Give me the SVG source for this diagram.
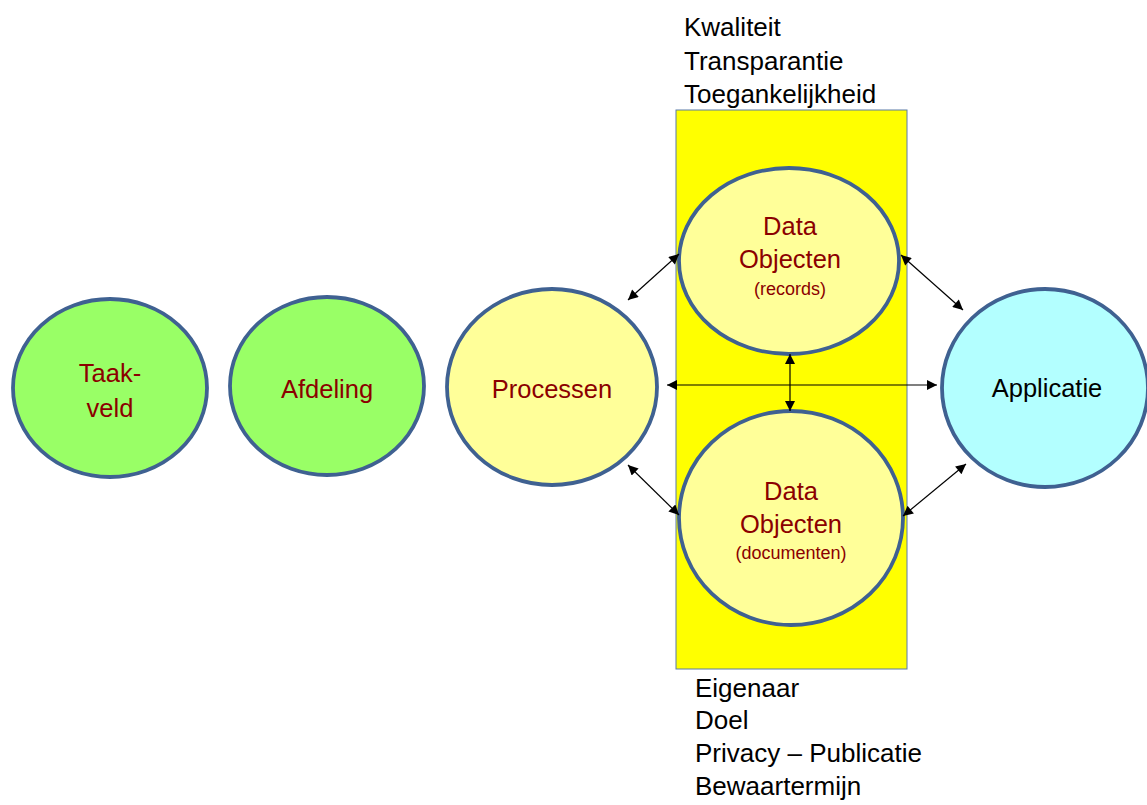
<svg xmlns="http://www.w3.org/2000/svg" width="1147" height="805" viewBox="0 0 1147 805">
<defs>
<marker id="ah" viewBox="0 0 10 10" refX="10" refY="5" markerWidth="11" markerHeight="10" markerUnits="userSpaceOnUse" orient="auto-start-reverse">
<path d="M0,0 L10,5 L0,10 z" fill="#000"/>
</marker>
<style>
.node{stroke:#3F6191;stroke-width:3.8}
.green{fill:#99FF66}
.yel{fill:#FFFF99}
.cyan{fill:#B3FFFF}
.lbl{font-family:"Liberation Sans",Arial,sans-serif;font-size:25.5px;fill:#8B0000;text-anchor:middle}
.sm{font-size:18px}
.side{font-family:"Liberation Sans",Arial,sans-serif;font-size:26px;fill:#000}
.conn{stroke:#000;stroke-width:1.2;fill:none;marker-start:url(#ah);marker-end:url(#ah)}
</style>
</defs>
<rect width="1147" height="805" fill="#fff"/>
<rect id="band" x="676" y="110" width="231" height="559" fill="#FFFF00" stroke="#5A7BA8" stroke-width="1"/>
<g id="taakveld"><ellipse class="node green" cx="110" cy="388" rx="97" ry="89"/><text class="lbl" x="110" y="382">Taak-</text><text class="lbl" x="110" y="417">veld</text></g>
<g id="afdeling"><ellipse class="node green" cx="327" cy="386" rx="97" ry="89"/><text class="lbl" x="327" y="398">Afdeling</text></g>
<g id="processen"><ellipse class="node yel" cx="552" cy="387" rx="105" ry="98"/><text class="lbl" x="552" y="398">Processen</text></g>
<g id="records"><ellipse class="node yel" cx="789" cy="261" rx="110" ry="93"/><text class="lbl" x="790" y="235">Data</text><text class="lbl" x="790" y="268">Objecten</text><text class="lbl sm" x="790" y="295">(records)</text></g>
<g id="documenten"><ellipse class="node yel" cx="791" cy="518" rx="112" ry="107"/><text class="lbl" x="791" y="500">Data</text><text class="lbl" x="791" y="533">Objecten</text><text class="lbl sm" x="791" y="559">(documenten)</text></g>
<g id="applicatie"><ellipse class="node cyan" cx="1045" cy="388" rx="103" ry="99"/><text class="lbl" x="1047" y="397" style="fill:#000">Applicatie</text></g>
<g id="connectors">
<line class="conn" x1="628" y1="300" x2="679" y2="254"/>
<line class="conn" x1="628" y1="465" x2="679" y2="515"/>
<line class="conn" x1="667" y1="385" x2="937" y2="385"/>
<line class="conn" x1="790" y1="354" x2="790" y2="411"/>
<line class="conn" x1="901" y1="255" x2="963" y2="310"/>
<line class="conn" x1="903" y1="516" x2="966" y2="464"/>
</g>
<g id="top-notes">
<text class="side" x="684" y="36">Kwaliteit</text>
<text class="side" x="684" y="70">Transparantie</text>
<text class="side" x="684" y="103">Toegankelijkheid</text>
</g>
<g id="bottom-notes">
<text class="side" x="695" y="697">Eigenaar</text>
<text class="side" x="695" y="729">Doel</text>
<text class="side" x="695" y="762">Privacy – Publicatie</text>
<text class="side" x="695" y="795">Bewaartermijn</text>
</g>
</svg>
